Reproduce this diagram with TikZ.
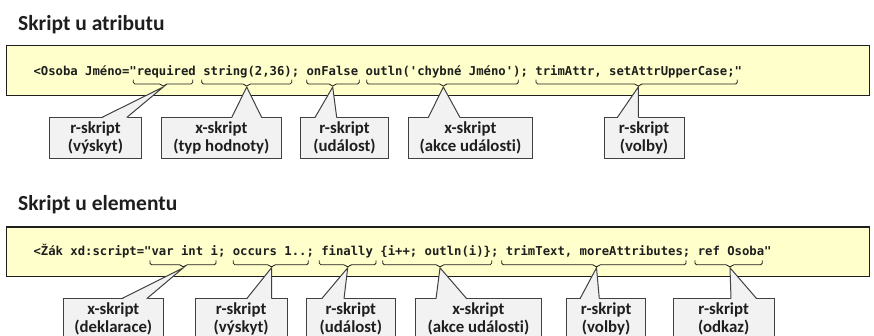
\documentclass[tikz,border=0pt]{standalone}
\usepackage{fontspec}
\setmainfont{Carlito}[Ligatures={TeX,NoCommon}]
\newfontfamily\codefont{DejaVu Sans Mono}
\definecolor{codeyellow}{HTML}{FFFFCC}
\definecolor{callfill}{HTML}{F2F2F2}
\definecolor{callline}{HTML}{404040}
\definecolor{inkdark}{HTML}{1E1E1E}
% straight quotes for the code lines
\newcommand\sq{\char39\relax}
\newcommand\dq{\char34\relax}
\begin{document}
\begin{tikzpicture}[x=1pt,y=-1pt,
  heading/.style={anchor=base west, inner sep=0pt, font=\bfseries\fontsize{21.5}{24}\selectfont, text=inkdark},
  codebox/.style={draw=inkdark, line width=1.5pt, fill=codeyellow},
  codeline/.style={anchor=base west, inner sep=0pt, font=\codefont\bfseries\fontsize{12.26}{14}\selectfont, text=inkdark},
  ubrace/.style={draw=inkdark, line width=0.8pt, rounded corners=1.6pt},
  callbox/.style={draw=callline, line width=1pt, fill=callfill, anchor=north west,
    inner sep=0pt, outer sep=0pt, minimum height=41.2pt, align=center,
    font=\bfseries\fontsize{16.8}{18}\selectfont, text=inkdark},
  pointerfill/.style={fill=callfill},
  pointerline/.style={draw=callline, line width=1pt, line join=miter},
]
\useasboundingbox (0,0) rectangle (874,336);

% ---------- attribute script ----------
\node[heading] (h1) at (18,30.7) {Skript u atributu};
\draw[codebox] (6.7,45.3) rectangle (869.5,95.3);
\node[codeline] (c1) at (33.3,75.3) {<Osoba Jméno=\dq required string(2,36); onFalse outln(\sq chybné Jméno\sq); trimAttr, setAttrUpperCase;\dq};

% braces under the code: name / left / right / tip
\foreach \n/\a/\b/\t in {ta1/133.3/192.7/163.3, ta2/201.7/291.7/246.7, ta3/306.7/359.3/332.7,
                         ta4/366.7/518.3/443.3, ta5/536/737.3/638.3}{
  \draw[ubrace] (\a,79.7) -- (\a,84) -- (\t-2.2,84) -- (\t,87) -- (\t+2.2,84) -- (\b,84) -- (\b,79.7);
  \coordinate (\n) at (\t,87);
}

% callout boxes: name / left / width / base left / base right / tip / text
\foreach \n/\x/\w/\p/\q/\t/\txt in {
   a1/49.3/92.4/52.4/77.4/ta1/{r-skript\\(výskyt)},
   a2/161/120.7/70.7/100.7/ta2/{x-skript\\(typ hodnoty)},
   a3/300.7/87.6/14.3/36/ta3/{r-skript\\(událost)},
   a4/408/124.7/20.3/52/ta4/{x-skript\\(akce události)},
   a5/604/80/13.3/34.3/ta5/{r-skript\\(volby)}}{
  \node[callbox, minimum width=\w pt] (\n) at (\x,117.5) {\txt};
  \fill[pointerfill] ([xshift=\p pt, yshift=-0.7pt]\n.north west) -- (\t) -- ([xshift=\q pt, yshift=-0.7pt]\n.north west) -- cycle;
  \draw[pointerline] ([xshift=\p pt]\n.north west) -- (\t) -- ([xshift=\q pt]\n.north west);
}

% ---------- element script ----------
\node[heading] (h2) at (18,210.7) {Skript u elementu};
\draw[codebox] (6.7,227) rectangle (869.5,276.7);
\node[codeline] (c2) at (33.3,256) {<Žák xd:script=\dq var int i; occurs 1..; finally \{i++; outln(i)\}; trimText, moreAttributes; ref Osoba\dq};

\foreach \n/\a/\b/\t in {tb1/150/216/183.3, tb2/233.3/308.3/271.5, tb3/319.3/376/347.7,
                         tb4/382.7/491.7/440, tb5/501.7/686/596.5, tb6/695/762.3/730}{
  \draw[ubrace] (\a,260.5) -- (\a,264.8) -- (\t-2.2,264.8) -- (\t,267.8) -- (\t+2.2,264.8) -- (\b,264.8) -- (\b,260.5);
  \coordinate (\n) at (\t,267.8);
}

\foreach \n/\x/\w/\p/\q/\t/\txt in {
   b1/63.3/100/58.4/83.4/tb1/{x-skript\\(deklarace)},
   b2/195/92.3/51.7/76.5/tb2/{r-skript\\(výskyt)},
   b3/306.7/88.3/15/37.3/tb3/{r-skript\\(událost)},
   b4/415/126.7/21/51.7/tb4/{x-skript\\(akce události)},
   b5/566.7/78.8/13.3/32.6/tb5/{r-skript\\(volby)},
   b6/673.3/100.7/57.7/83.4/tb6/{r-skript\\(odkaz)}}{
  \node[callbox, minimum width=\w pt] (\n) at (\x,298.7) {\txt};
  \fill[pointerfill] ([xshift=\p pt, yshift=-0.7pt]\n.north west) -- (\t) -- ([xshift=\q pt, yshift=-0.7pt]\n.north west) -- cycle;
  \draw[pointerline] ([xshift=\p pt]\n.north west) -- (\t) -- ([xshift=\q pt]\n.north west);
}
\end{tikzpicture}
\end{document}
